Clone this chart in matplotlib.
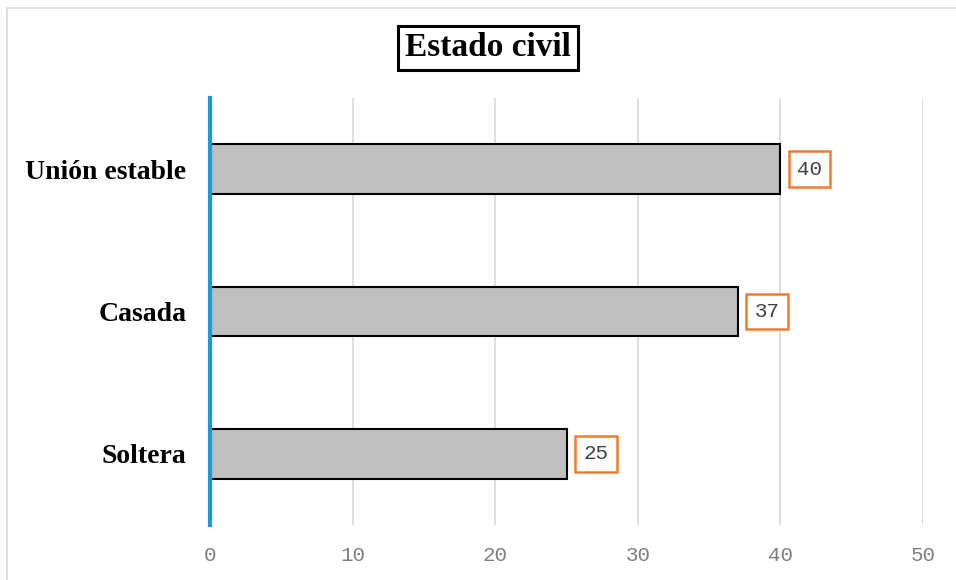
import matplotlib.pyplot as plt
from matplotlib.patches import Rectangle

categorias = ["Unión estable", "Casada", "Soltera"]
valores = [40, 37, 25]
ticks_x = [0, 10, 20, 30, 40, 50]

fig = plt.figure(figsize=(9.56, 5.8), dpi=100)
# marco exterior del gráfico
fig.patches.append(Rectangle((7 / 956, -0.01), 1.0, 1 - 8 / 580 + 0.01,
                             transform=fig.transFigure, fill=False,
                             edgecolor="#d9d9d9", linewidth=1.2))

ax = fig.add_axes([210 / 956, 55 / 580, 713 / 956, 427 / 580])
pos = list(range(len(categorias)))
ax.barh(pos, valores, height=0.35, color="#bfbfbf", edgecolor="black",
        linewidth=1.5, zorder=3)
ax.set_ylim(2.5, -0.5)
ax.set_xlim(0, 50)

for v in ticks_x[1:]:
    ax.axvline(v, color="#d9d9d9", linewidth=1.2, zorder=1)
ax.axvline(0, color="#1a9bd7", linewidth=3, zorder=4, clip_on=False)

for s in ax.spines.values():
    s.set_visible(False)

ax.set_xticks(ticks_x)
ax.set_xticklabels([str(t) for t in ticks_x], family="Liberation Mono",
                   fontsize=15, color="#7f7f7f")
ax.tick_params(axis="x", length=0, pad=15)
ax.set_yticks(pos)
ax.set_yticklabels(categorias, family="Liberation Serif", fontweight="bold",
                   fontsize=20)
ax.tick_params(axis="y", length=0, pad=17)

for p, v in zip(pos, valores):
    ax.annotate(str(v), (v, p), xytext=(12, 0), textcoords="offset points",
                va="center", ha="left", family="Liberation Mono", fontsize=15,
                color="#404040",
                bbox=dict(boxstyle="square,pad=0.4", fc="white",
                          ec="#ed7d31", lw=1.8))

fig.text(488 / 956, 1 - 48 / 580, "Estado civil", ha="center", va="center",
         family="Liberation Serif", fontweight="bold", fontsize=24,
         bbox=dict(boxstyle="square,pad=0.2", fc="white", ec="black", lw=2.2))

fig.savefig("out.png", dpi=100)
